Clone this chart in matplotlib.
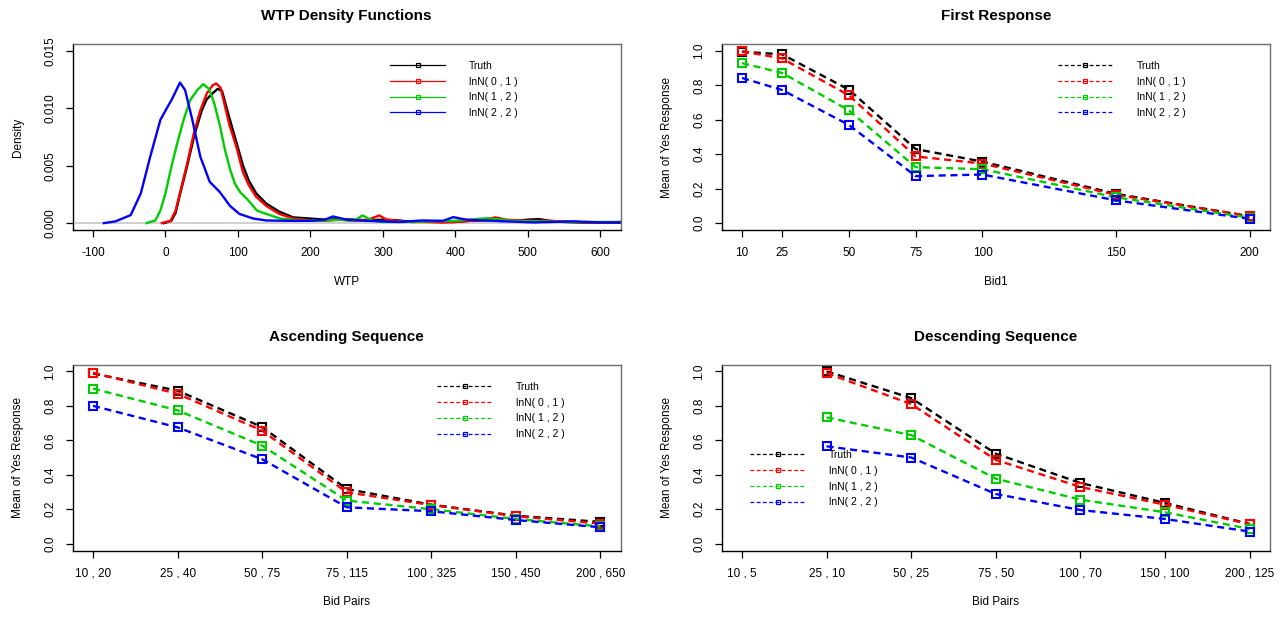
import matplotlib.pyplot as plt
from matplotlib.lines import Line2D

plt.rcParams['font.family'] = ['Liberation Sans', 'DejaVu Sans']
plt.rcParams['axes.unicode_minus'] = False

# series names and colours
names = ['Truth', 'lnN( 0 , 1 )', 'lnN( 1 , 2 )', 'lnN( 2 , 2 )']
cols = ['black', '#FF0000', '#00CD00', '#0000FF']

# WTP density curves
dens_x_truth = [-2, 8, 14, 20, 30, 40, 50, 57, 65, 72, 78, 88, 98, 107, 115, 125, 139, 157, 176, 199,
                220, 240, 260, 280, 300, 320, 340, 360, 380, 400, 420, 440, 460, 480, 500, 515, 530, 550,
                575, 600, 630]
dens_y_truth = [0, 0.0002, 0.0009, 0.0025, 0.0050, 0.0077, 0.0098, 0.0108, 0.0113, 0.0117, 0.0115, 0.0092,
                0.0070, 0.0050, 0.0037, 0.0026, 0.0017, 0.0010, 0.0005, 0.0004, 0.0003, 0.00035, 0.0003,
                0.00025, 0.0003, 0.00025, 0.0001, 0.00015, 0.0001, 0.0001, 0.0002, 0.00025, 0.0003, 0.0002,
                0.0003, 0.00035, 0.0002, 0.0001, 0.00005, 0.00005, 0.00005]
dens_x_ln01 = [-5, 7, 14, 21, 30, 39, 48, 57, 65, 70, 76, 88, 98, 107, 115, 125, 139, 157, 176, 199, 220,
               240, 260, 280, 295, 305, 320, 340, 360, 380, 400, 420, 440, 455, 470, 500, 530, 560, 600, 630]
dens_y_ln01 = [0, 0.0002, 0.0011, 0.0029, 0.0052, 0.0078, 0.0098, 0.0113, 0.0120, 0.01216, 0.0118, 0.0086,
               0.0066, 0.0044, 0.0033, 0.0023, 0.0015, 0.0008, 0.0004, 0.00025, 0.0002, 0.0003, 0.0002,
               0.0003, 0.00067, 0.0003, 0.0002, 0.0001, 0.0001, 0.00005, 0.0001, 0.0002, 0.0003, 0.0005,
               0.0003, 0.0002, 0.0002, 0.0001, 0.00005, 0.0001]
dens_x_ln12 = [-26, -14, -7, 0, 7, 16, 25, 34, 44, 52, 60, 67, 75, 82, 89, 96, 103, 114, 126, 139, 158, 185,
               210, 240, 260, 272, 285, 300, 330, 360, 400, 443, 480, 520, 560, 600, 630]
dens_y_ln12 = [0, 0.00023, 0.0011, 0.0026, 0.0046, 0.0069, 0.0090, 0.0107, 0.0116, 0.0121, 0.0117, 0.0105,
               0.0085, 0.0064, 0.0047, 0.0034, 0.0027, 0.0020, 0.0011, 0.0008, 0.0004, 0.00023, 0.0002,
               0.0003, 0.0002, 0.00067, 0.00023, 0.0001, 0.0001, 0.00015, 0.0002, 0.00043, 0.0002, 0.00015,
               0.0001, 0.0001, 0.0001]
dens_x_ln22 = [-85, -69, -48, -34, -21, -7, 0, 9, 20, 27, 37, 48, 61, 75, 89, 102, 121, 139, 170, 200, 220,
               231, 250, 277, 300, 323, 353, 383, 397, 415, 462, 508, 563, 600, 630]
dens_y_ln22 = [0, 0.00015, 0.0007, 0.0026, 0.0058, 0.0090, 0.0098, 0.0108, 0.01224, 0.0116, 0.0090, 0.0058,
               0.0036, 0.0027, 0.0015, 0.0008, 0.0004, 0.00023, 0.0002, 0.0002, 0.0003, 0.00058, 0.0003,
               0.0002, 0.00015, 0.0001, 0.00023, 0.0002, 0.00052, 0.0003, 0.00017, 0.00006, 0.00015,
               0.00006, 0.00006]

# first response
bid1 = [10, 25, 50, 75, 100, 150, 200]
first_truth = [0.995, 0.98, 0.775, 0.43, 0.357, 0.17, 0.039]
first_ln01 = [0.998, 0.956, 0.742, 0.387, 0.346, 0.164, 0.042]
first_ln12 = [0.929, 0.872, 0.655, 0.325, 0.313, 0.15, 0.031]
first_ln22 = [0.843, 0.773, 0.57, 0.273, 0.282, 0.132, 0.025]

# ascending sequence
asc_labels = ['10 , 20', '25 , 40', '50 , 75', '75 , 115', '100 , 325', '150 , 450', '200 , 650']
asc_truth = [0.988, 0.888, 0.677, 0.317, 0.226, 0.162, 0.126]
asc_ln01 = [0.992, 0.870, 0.656, 0.298, 0.224, 0.159, 0.116]
asc_ln12 = [0.900, 0.774, 0.569, 0.250, 0.200, 0.143, 0.100]
asc_ln22 = [0.800, 0.675, 0.490, 0.211, 0.188, 0.137, 0.095]

# descending sequence (nothing at the first pair)
desc_labels = ['10 , 5', '25 , 10', '50 , 25', '75 , 50', '100 , 70', '150 , 100', '200 , 125']
desc_truth = [None, 1.0, 0.845, 0.522, 0.352, 0.236, 0.114]
desc_ln01 = [None, 0.99, 0.81, 0.486, 0.329, 0.226, 0.112]
desc_ln12 = [None, 0.733, 0.63, 0.377, 0.255, 0.182, 0.085]
desc_ln22 = [None, 0.565, 0.50, 0.288, 0.195, 0.143, 0.070]

W, H = 1281, 617
fig = plt.figure(figsize=(W / 100, H / 100), dpi=100)


def make_ax(px0, py0, px1, py1):
    ax = fig.add_axes([px0 / W, 1 - py1 / H, (px1 - px0) / W, (py1 - py0) / H])
    for s in ['top', 'right']:
        ax.spines[s].set_color('#6e6e6e')
    for s in ax.spines.values():
        s.set_linewidth(1.0)
    ax.tick_params(direction='out', length=5, width=0.9, labelsize=8.5, pad=7, colors='black')
    ax.tick_params(axis='y', labelrotation=90)
    return ax


def finish(ax, title, xlabel, ylabel):
    ax.set_title(title, fontsize=11, fontweight='bold', pad=17)
    ax.set_xlabel(xlabel, fontsize=8.5)
    ax.xaxis.set_label_coords(0.5, -0.245)
    ax.set_ylabel(ylabel, fontsize=8.5)
    ax.yaxis.set_label_coords(-0.088, 0.5)
    for t in ax.get_yticklabels():
        t.set_va('center')


def add_legend(ax, ls, x, y):
    hs = [Line2D([], [], color=c, lw=0.9, ls=ls, marker='s', mfc='none', ms=3.5, mew=0.9) for c in cols]
    ax.legend(hs, names, loc='upper left', bbox_to_anchor=(x, y), frameon=False, fontsize=7.5,
              handlelength=5.3, handletextpad=2.3, labelspacing=0.55, borderpad=0, borderaxespad=0,
              numpoints=1)


dash = (0, (3, 2))

# panel 1: WTP densities
ax1 = make_ax(72.7, 44, 620.7, 230)
ax1.axhline(0, color='#c8c8c8', lw=1.2, zorder=1)
for xs, ys, c in zip([dens_x_truth, dens_x_ln01, dens_x_ln12, dens_x_ln22],
                     [dens_y_truth, dens_y_ln01, dens_y_ln12, dens_y_ln22], cols):
    ax1.plot(xs, ys, color=c, lw=1.7, zorder=2)
ax1.set_xlim(-128, 628)
ax1.set_ylim(-0.0006, 0.0156)
ax1.set_xticks([-100, 0, 100, 200, 300, 400, 500, 600])
ax1.set_yticks([0, 0.005, 0.010, 0.015])
ax1.set_yticklabels(['0.000', '0.005', '0.010', '0.015'])
finish(ax1, 'WTP Density Functions', 'WTP', 'Density')
add_legend(ax1, '-', 0.579, 0.909)

# panel 2: first response
ax2 = make_ax(721.7, 44, 1270, 230)
for ys, c in zip([first_truth, first_ln01, first_ln12, first_ln22], cols):
    ax2.plot(bid1, ys, color=c, lw=1.7, ls=dash, marker='s', mfc='none', ms=6, mew=1.5)
ax2.set_xlim(2.4, 207.6)
ax2.set_ylim(-0.04, 1.04)
ax2.set_xticks(bid1)
ax2.set_yticks([0, 0.2, 0.4, 0.6, 0.8, 1.0])
ax2.set_yticklabels(['0.0', '0.2', '0.4', '0.6', '0.8', '1.0'])
finish(ax2, 'First Response', 'Bid1', 'Mean of Yes Response')
add_legend(ax2, dash, 0.613, 0.909)

# panel 3: ascending sequence
ax3 = make_ax(72.7, 364.5, 620.7, 550.5)
pos = list(range(1, len(asc_labels) + 1))
for ys, c in zip([asc_truth, asc_ln01, asc_ln12, asc_ln22], cols):
    ax3.plot(pos, ys, color=c, lw=1.7, ls=dash, marker='s', mfc='none', ms=6, mew=1.5)
ax3.set_xlim(0.76, 7.24)
ax3.set_ylim(-0.04, 1.04)
ax3.set_xticks(pos)
ax3.set_xticklabels(asc_labels)
ax3.set_yticks([0, 0.2, 0.4, 0.6, 0.8, 1.0])
ax3.set_yticklabels(['0.0', '0.2', '0.4', '0.6', '0.8', '1.0'])
finish(ax3, 'Ascending Sequence', 'Bid Pairs', 'Mean of Yes Response')
add_legend(ax3, dash, 0.665, 0.906)

# panel 4: descending sequence
ax4 = make_ax(721.7, 364.5, 1270, 550.5)
for ys, c in zip([desc_truth, desc_ln01, desc_ln12, desc_ln22], cols):
    px = [p for p, v in zip(pos, ys) if v is not None]
    py = [v for v in ys if v is not None]
    ax4.plot(px, py, color=c, lw=1.7, ls=dash, marker='s', mfc='none', ms=6, mew=1.5)
ax4.set_xlim(0.76, 7.24)
ax4.set_ylim(-0.04, 1.04)
ax4.set_xticks(pos)
ax4.set_xticklabels(desc_labels)
ax4.set_yticks([0, 0.2, 0.4, 0.6, 0.8, 1.0])
ax4.set_yticklabels(['0.0', '0.2', '0.4', '0.6', '0.8', '1.0'])
finish(ax4, 'Descending Sequence', 'Bid Pairs', 'Mean of Yes Response')
add_legend(ax4, dash, 0.0516, 0.54)

fig.savefig('out.png', dpi=100)
